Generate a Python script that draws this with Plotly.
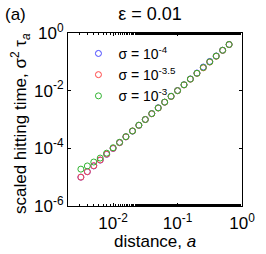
import plotly.graph_objects as go

# distance a (log-spaced, 10^-2.5 ... 10^-0.2)
a_vals = [0.00316, 0.00398, 0.00501, 0.00631, 0.00794, 0.0100, 0.0126, 0.0158,
          0.0200, 0.0251, 0.0316, 0.0398, 0.0501, 0.0631, 0.0794, 0.100,
          0.126, 0.158, 0.200, 0.251, 0.316, 0.398, 0.501, 0.631]

# scaled hitting time sigma^2 tau_a for each sigma
tau_s4 = [1.00e-5, 1.55e-5, 2.45e-5, 3.90e-5, 6.20e-5, 9.90e-5, 1.58e-4, 2.50e-4,
          3.95e-4, 6.30e-4, 1.00e-3, 1.60e-3, 2.55e-3, 4.00e-3, 6.40e-3, 1.01e-2,
          1.60e-2, 2.55e-2, 4.10e-2, 6.60e-2, 0.103, 0.160, 0.252, 0.398]
tau_s35 = [1.00e-5, 1.55e-5, 2.50e-5, 3.95e-5, 6.30e-5, 1.00e-4, 1.58e-4, 2.50e-4,
           4.00e-4, 6.30e-4, 1.00e-3, 1.58e-3, 2.50e-3, 3.98e-3, 6.30e-3, 1.00e-2,
           1.58e-2, 2.50e-2, 3.98e-2, 6.20e-2, 0.098, 0.156, 0.250, 0.398]
tau_s3 = [1.90e-5, 2.45e-5, 3.35e-5, 4.60e-5, 6.80e-5, 1.05e-4, 1.62e-4, 2.55e-4,
          4.00e-4, 6.35e-4, 1.00e-3, 1.60e-3, 2.52e-3, 4.00e-3, 6.35e-3, 1.00e-2,
          1.60e-2, 2.52e-2, 4.00e-2, 6.35e-2, 0.100, 0.158, 0.252, 0.400]

series_names = ["σ = 10<sup>-4</sup>", "σ = 10<sup>-3.5</sup>", "σ = 10<sup>-3</sup>"]
series_vals = [tau_s4, tau_s35, tau_s3]
colors = ["rgb(70,70,255)", "rgb(255,70,70)", "rgb(50,180,50)"]

x_tickvals = [1e-2, 1e-1, 1]
x_ticktext = ["10<sup>-2</sup>", "10<sup>-1</sup>", "10<sup>0</sup>"]
y_tickvals = [1e-6, 1e-4, 1e-2, 1]
y_ticktext = ["10<sup>-6</sup>", "10<sup>-4</sup>", "10<sup>-2</sup>", "10<sup>0</sup>"]

FONT = "Liberation Sans, Arial, Helvetica, sans-serif"
L, T, W, H = 68, 33, 174, 173

fig = go.Figure()
for i, (name, vals, c) in enumerate(zip(series_names, series_vals, colors)):
    fig.add_trace(go.Scatter(
        x=a_vals, y=vals, mode="markers", name=name,
        marker=dict(symbol="circle-open", size=6, color=c, line=dict(width=1, color=c)),
    ))

axis_common = dict(
    type="log", showline=True, linecolor="black", linewidth=1, mirror="allticks",
    ticks="inside", tickcolor="black", showgrid=False, zeroline=False,
    tickfont=dict(family=FONT, size=17, color="black"), automargin=False,
)

fig.update_xaxes(**axis_common, range=[-2.7, 0], tickmode="array", tickvals=x_tickvals,
                 ticktext=x_ticktext, ticklen=3, ticklabelstandoff=2,
                 minor=dict(ticks="inside", ticklen=2, tickcolor="black", showgrid=False))
fig.update_yaxes(**axis_common, range=[-6, 0], tickmode="array", tickvals=y_tickvals,
                 ticktext=y_ticktext, ticklen=3, ticklabelstandoff=0)


def px_x(x):
    return (x - L) / W


def px_y(y):
    return 1 - (y - T) / H


fig.update_layout(
    width=266, height=254,
    margin=dict(l=L, r=266 - L - W, t=T, b=254 - T - H),
    paper_bgcolor="white", plot_bgcolor="white",
    font=dict(family=FONT, size=17, color="black"),
    showlegend=True,
    legend=dict(x=0.06, y=0.972, xanchor="left", yanchor="top", bgcolor="rgba(0,0,0,0)",
                font=dict(family=FONT, size=14, color="black"), itemwidth=30, tracegroupgap=0),
    title=dict(text="ε = 0.01", x=px_x(150), xref="paper", xanchor="center",
               y=1 - 14 / 254, yref="container", yanchor="middle",
               font=dict(family=FONT, size=18, color="black")),
    annotations=[
        dict(text="(a)", xref="paper", yref="paper", x=px_x(15), y=px_y(14),
             xanchor="center", yanchor="middle", showarrow=False,
             font=dict(family=FONT, size=17, color="black")),
        dict(text="distance, <i>a</i>", xref="paper", yref="paper", x=px_x(155), y=px_y(241),
             xanchor="center", yanchor="middle", showarrow=False,
             font=dict(family=FONT, size=17, color="black")),
        dict(text="scaled hitting time, σ<sup>2</sup> τ<sub><i>a</i></sub>", textangle=-90,
             xref="paper", yref="paper", x=px_x(20), y=px_y(124),
             xanchor="center", yanchor="middle", showarrow=False,
             font=dict(family=FONT, size=17, color="black")),
    ],
)

fig.write_html("out.html", config={"displayModeBar": False},
               post_script="document.body.style.margin='0';")
